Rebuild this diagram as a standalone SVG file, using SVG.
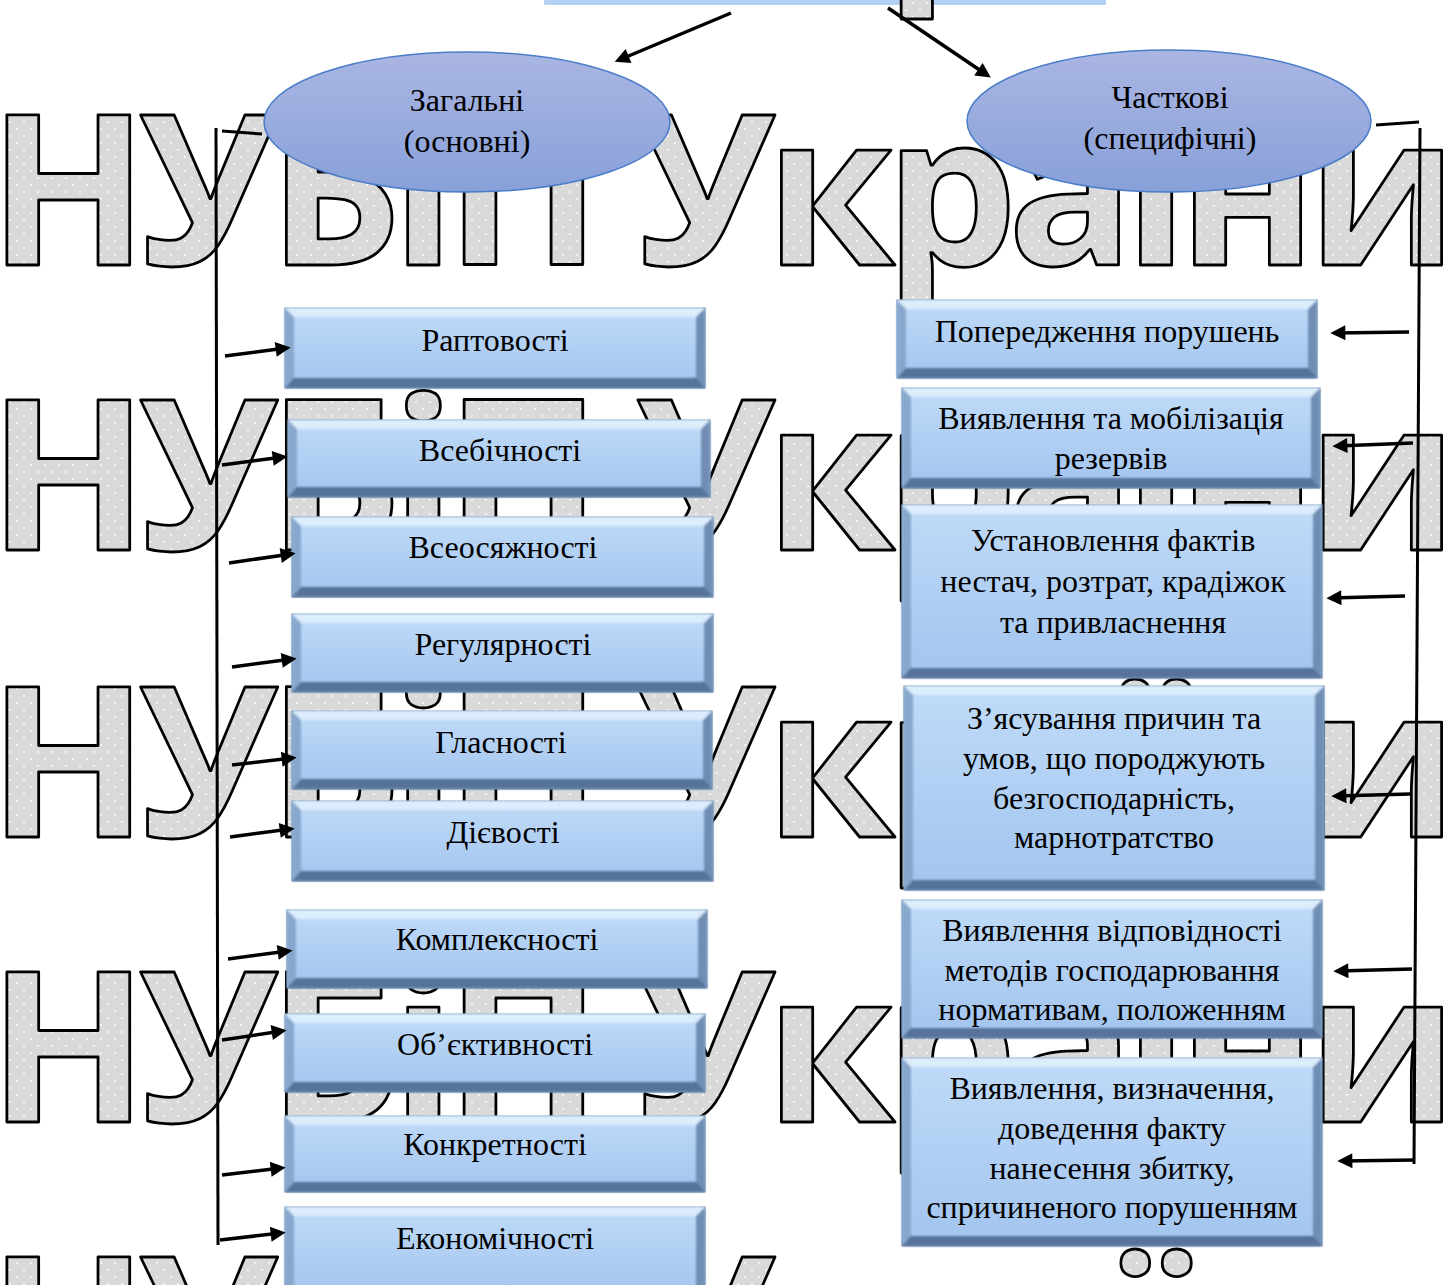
<svg xmlns="http://www.w3.org/2000/svg" width="1454" height="1285" viewBox="0 0 1454 1285">
  <defs>
    <pattern id="dots" width="14" height="14" patternUnits="userSpaceOnUse">
      <rect width="14" height="14" fill="#d9d9d9"/>
      <circle cx="3" cy="3" r="0.9" fill="#ffffff"/>
      <circle cx="10" cy="10" r="0.9" fill="#ffffff"/>
    </pattern>
    <linearGradient id="ovalFill" x1="0" y1="0" x2="0" y2="1">
      <stop offset="0" stop-color="#aab6e2"/>
      <stop offset="1" stop-color="#88a0d9"/>
    </linearGradient>
    <linearGradient id="boxFill" x1="0" y1="0" x2="0" y2="1">
      <stop offset="0" stop-color="#c0dbf8"/>
      <stop offset="1" stop-color="#a2c4ee"/>
    </linearGradient>
    <filter id="soft" x="-5%" y="-5%" width="110%" height="110%">
      <feGaussianBlur stdDeviation="1.3"/>
    </filter>
    <marker id="arr" viewBox="0 0 10 10" refX="6.9" refY="5" markerWidth="19" markerHeight="15" markerUnits="userSpaceOnUse" orient="auto">
      <path d="M0,0 L10,5 L0,10 z" fill="#000"/>
    </marker>
    <style>
      .wm { font-family: "Open Sans", "Noto Sans", "DejaVu Sans", sans-serif; font-weight: 700; font-size: 210px; fill: url(#dots); stroke: #000; stroke-width: 2.8; stroke-linejoin: round; }
      .oval { fill: url(#ovalFill); stroke: #4a7cc9; stroke-width: 1.5; }
      .lbl { font-family: "Liberation Serif", "Times New Roman", serif; font-size: 32px; fill: #000; text-anchor: middle; }
      .olbl { font-family: "Liberation Serif", "Times New Roman", serif; font-size: 32px; fill: #000; text-anchor: middle; }
      .bx { fill: url(#boxFill); stroke: #6a8ab0; stroke-width: 1; }
      .bl { fill: #87a7cd; }
      .br { fill: #6f8eb4; }
      .bt { fill: #dcedfc; }
      .bb { fill: #56739a; }
      .ln { stroke: #000; stroke-width: 3; fill: none; }
      .ar { stroke: #000; stroke-width: 3.5; fill: none; marker-end: url(#arr); }
    </style>
  </defs>

  <rect width="1454" height="1285" fill="#ffffff"/>

  <!-- top box, only its lower edge falls inside the sheet -->
  <g id="top-box">
    <rect x="545" y="-60" width="560" height="64" fill="#b4d3f4" stroke="#a9c9ea" stroke-width="1.5"/>
  </g>

  <!-- background lettering -->
  <g id="watermark">
    <text class="wm" x="-12" y="-32" textLength="1470" lengthAdjust="spacing">НУБіП України</text>
    <text class="wm" x="-12" y="265" textLength="1470" lengthAdjust="spacing">НУБіП України</text>
    <text class="wm" x="-12" y="550" textLength="1470" lengthAdjust="spacing">НУБіП України</text>
    <text class="wm" x="-12" y="837" textLength="1470" lengthAdjust="spacing">НУБіП України</text>
    <text class="wm" x="-12" y="1122" textLength="1470" lengthAdjust="spacing">НУБіП України</text>
    <text class="wm" x="-12" y="1407" textLength="1470" lengthAdjust="spacing">НУБіП України</text>
  </g>

  <!-- category ovals -->
  <g id="general">
    <ellipse class="oval" cx="467" cy="122" rx="203" ry="70"/>
    <text class="olbl" x="467" y="111">Загальні</text>
    <text class="olbl" x="467" y="152">(основні)</text>
  </g>
  <g id="specific">
    <ellipse class="oval" cx="1169" cy="121" rx="202" ry="71"/>
    <text class="olbl" x="1170" y="108">Часткові</text>
    <text class="olbl" x="1170" y="149">(специфічні)</text>
  </g>

  <!-- general principles (left column) -->
  <g id="l1">
    <rect class="bx" x="285" y="308" width="420" height="80"/>
    <g filter="url(#soft)">
      <rect class="bl" x="285" y="308" width="9" height="80"/>
      <rect class="br" x="696" y="308" width="9" height="80"/>
      <polygon class="bt" points="285,308 705,308 696,317 294,317"/>
      <polygon class="bb" points="285,388 705,388 696,378 294,378"/>
    </g>
    <text class="lbl" x="495" y="351">Раптовості</text>
  </g>
  <g id="l2">
    <rect class="bx" x="288" y="420" width="422" height="77"/>
    <g filter="url(#soft)">
      <rect class="bl" x="288" y="420" width="9" height="77"/>
      <rect class="br" x="701" y="420" width="9" height="77"/>
      <polygon class="bt" points="288,420 710,420 701,429 297,429"/>
      <polygon class="bb" points="288,497 710,497 701,487 297,487"/>
    </g>
    <text class="lbl" x="500" y="461">Всебічності</text>
  </g>
  <g id="l3">
    <rect class="bx" x="292" y="517" width="421" height="80"/>
    <g filter="url(#soft)">
      <rect class="bl" x="292" y="517" width="9" height="80"/>
      <rect class="br" x="704" y="517" width="9" height="80"/>
      <polygon class="bt" points="292,517 713,517 704,526 301,526"/>
      <polygon class="bb" points="292,597 713,597 704,587 301,587"/>
    </g>
    <text class="lbl" x="503" y="558">Всеосяжності</text>
  </g>
  <g id="l4">
    <rect class="bx" x="292" y="614" width="421" height="78"/>
    <g filter="url(#soft)">
      <rect class="bl" x="292" y="614" width="9" height="78"/>
      <rect class="br" x="704" y="614" width="9" height="78"/>
      <polygon class="bt" points="292,614 713,614 704,623 301,623"/>
      <polygon class="bb" points="292,692 713,692 704,682 301,682"/>
    </g>
    <text class="lbl" x="503" y="655">Регулярності</text>
  </g>
  <g id="l5">
    <rect class="bx" x="292" y="711" width="420" height="78"/>
    <g filter="url(#soft)">
      <rect class="bl" x="292" y="711" width="9" height="78"/>
      <rect class="br" x="703" y="711" width="9" height="78"/>
      <polygon class="bt" points="292,711 712,711 703,720 301,720"/>
      <polygon class="bb" points="292,789 712,789 703,779 301,779"/>
    </g>
    <text class="lbl" x="501" y="753">Гласності</text>
  </g>
  <g id="l6">
    <rect class="bx" x="292" y="801" width="421" height="80"/>
    <g filter="url(#soft)">
      <rect class="bl" x="292" y="801" width="9" height="80"/>
      <rect class="br" x="704" y="801" width="9" height="80"/>
      <polygon class="bt" points="292,801 713,801 704,810 301,810"/>
      <polygon class="bb" points="292,881 713,881 704,871 301,871"/>
    </g>
    <text class="lbl" x="503" y="843">Дієвості</text>
  </g>
  <g id="l7">
    <rect class="bx" x="287" y="910" width="420" height="78"/>
    <g filter="url(#soft)">
      <rect class="bl" x="287" y="910" width="9" height="78"/>
      <rect class="br" x="698" y="910" width="9" height="78"/>
      <polygon class="bt" points="287,910 707,910 698,919 296,919"/>
      <polygon class="bb" points="287,988 707,988 698,978 296,978"/>
    </g>
    <text class="lbl" x="497" y="950">Комплексності</text>
  </g>
  <g id="l8">
    <rect class="bx" x="285" y="1014" width="420" height="78"/>
    <g filter="url(#soft)">
      <rect class="bl" x="285" y="1014" width="9" height="78"/>
      <rect class="br" x="696" y="1014" width="9" height="78"/>
      <polygon class="bt" points="285,1014 705,1014 696,1023 294,1023"/>
      <polygon class="bb" points="285,1092 705,1092 696,1082 294,1082"/>
    </g>
    <text class="lbl" x="495" y="1055">Об’єктивності</text>
  </g>
  <g id="l9">
    <rect class="bx" x="285" y="1116" width="420" height="76"/>
    <g filter="url(#soft)">
      <rect class="bl" x="285" y="1116" width="9" height="76"/>
      <rect class="br" x="696" y="1116" width="9" height="76"/>
      <polygon class="bt" points="285,1116 705,1116 696,1125 294,1125"/>
      <polygon class="bb" points="285,1192 705,1192 696,1182 294,1182"/>
    </g>
    <text class="lbl" x="495" y="1155">Конкретності</text>
  </g>
  <g id="l10">
    <rect class="bx" x="285" y="1207" width="420" height="90"/>
    <g filter="url(#soft)">
      <rect class="bl" x="285" y="1207" width="9" height="90"/>
      <rect class="br" x="696" y="1207" width="9" height="90"/>
      <polygon class="bt" points="285,1207 705,1207 696,1216 294,1216"/>
    </g>
    <text class="lbl" x="495" y="1249">Економічності</text>
  </g>

  <!-- specific tasks (right column) -->
  <g id="r1">
    <rect class="bx" x="897" y="300" width="420" height="78"/>
    <g filter="url(#soft)">
      <rect class="bl" x="897" y="300" width="9" height="78"/>
      <rect class="br" x="1308" y="300" width="9" height="78"/>
      <polygon class="bt" points="897,300 1317,300 1308,309 906,309"/>
      <polygon class="bb" points="897,378 1317,378 1308,368 906,368"/>
    </g>
    <text class="lbl" x="1107" y="342">Попередження порушень</text>
  </g>
  <g id="r2">
    <rect class="bx" x="902" y="388" width="418" height="100"/>
    <g filter="url(#soft)">
      <rect class="bl" x="902" y="388" width="9" height="100"/>
      <rect class="br" x="1311" y="388" width="9" height="100"/>
      <polygon class="bt" points="902,388 1320,388 1311,397 911,397"/>
      <polygon class="bb" points="902,488 1320,488 1311,478 911,478"/>
    </g>
    <text class="lbl" x="1111" y="429">Виявлення та мобілізація</text>
    <text class="lbl" x="1111" y="469">резервів</text>
  </g>
  <g id="r3">
    <rect class="bx" x="902" y="505" width="420" height="173"/>
    <g filter="url(#soft)">
      <rect class="bl" x="902" y="505" width="9" height="173"/>
      <rect class="br" x="1313" y="505" width="9" height="173"/>
      <polygon class="bt" points="902,505 1322,505 1313,514 911,514"/>
      <polygon class="bb" points="902,678 1322,678 1313,668 911,668"/>
    </g>
    <text class="lbl" x="1113" y="551">Установлення фактів</text>
    <text class="lbl" x="1113" y="592">нестач, розтрат, крадіжок</text>
    <text class="lbl" x="1113" y="633">та привласнення</text>
  </g>
  <g id="r4">
    <rect class="bx" x="904" y="686" width="420" height="204"/>
    <g filter="url(#soft)">
      <rect class="bl" x="904" y="686" width="9" height="204"/>
      <rect class="br" x="1315" y="686" width="9" height="204"/>
      <polygon class="bt" points="904,686 1324,686 1315,695 913,695"/>
      <polygon class="bb" points="904,890 1324,890 1315,880 913,880"/>
    </g>
    <text class="lbl" x="1114" y="729">З’ясування причин та</text>
    <text class="lbl" x="1114" y="769">умов, що породжують</text>
    <text class="lbl" x="1114" y="809">безгосподарність,</text>
    <text class="lbl" x="1114" y="848">марнотратство</text>
  </g>
  <g id="r5">
    <rect class="bx" x="902" y="900" width="420" height="138"/>
    <g filter="url(#soft)">
      <rect class="bl" x="902" y="900" width="9" height="138"/>
      <rect class="br" x="1313" y="900" width="9" height="138"/>
      <polygon class="bt" points="902,900 1322,900 1313,909 911,909"/>
      <polygon class="bb" points="902,1038 1322,1038 1313,1028 911,1028"/>
    </g>
    <text class="lbl" x="1112" y="941">Виявлення відповідності</text>
    <text class="lbl" x="1112" y="981">методів господарювання</text>
    <text class="lbl" x="1112" y="1020">нормативам, положенням</text>
  </g>
  <g id="r6">
    <rect class="bx" x="902" y="1058" width="420" height="188"/>
    <g filter="url(#soft)">
      <rect class="bl" x="902" y="1058" width="9" height="188"/>
      <rect class="br" x="1313" y="1058" width="9" height="188"/>
      <polygon class="bt" points="902,1058 1322,1058 1313,1067 911,1067"/>
      <polygon class="bb" points="902,1246 1322,1246 1313,1236 911,1236"/>
    </g>
    <text class="lbl" x="1112" y="1099">Виявлення, визначення,</text>
    <text class="lbl" x="1112" y="1139">доведення факту</text>
    <text class="lbl" x="1112" y="1179">нанесення збитку,</text>
    <text class="lbl" x="1112" y="1218">спричиненого порушенням</text>
  </g>

  <!-- connectors -->
  <g id="connectors">
    <line class="ar" x1="731" y1="13" x2="619" y2="60"/>
    <line class="ar" x1="888" y1="8" x2="987" y2="75"/>

    <line class="ln" x1="222" y1="131" x2="262" y2="134"/>
    <line class="ln" x1="216" y1="128" x2="218" y2="1245"/>
    <line class="ar" x1="225" y1="356" x2="286" y2="348"/>
    <line class="ar" x1="222" y1="465" x2="283" y2="457"/>
    <line class="ar" x1="229" y1="563" x2="291" y2="554"/>
    <line class="ar" x1="232" y1="667" x2="292" y2="659"/>
    <line class="ar" x1="232" y1="765" x2="292" y2="758"/>
    <line class="ar" x1="230" y1="837" x2="290" y2="829"/>
    <line class="ar" x1="228" y1="959" x2="288" y2="951"/>
    <line class="ar" x1="222" y1="1040" x2="282" y2="1031"/>
    <line class="ar" x1="222" y1="1175" x2="281" y2="1168"/>
    <line class="ar" x1="220" y1="1240" x2="281" y2="1233"/>

    <line class="ln" x1="1376" y1="125" x2="1419" y2="122"/>
    <line class="ln" x1="1420" y1="128" x2="1414" y2="1164"/>
    <line class="ar" x1="1409" y1="332" x2="1335" y2="333"/>
    <line class="ar" x1="1413" y1="443" x2="1337" y2="446"/>
    <line class="ar" x1="1405" y1="596" x2="1331" y2="598"/>
    <line class="ar" x1="1410" y1="794" x2="1336" y2="796"/>
    <line class="ar" x1="1412" y1="969" x2="1338" y2="971"/>
    <line class="ar" x1="1415" y1="1160" x2="1342" y2="1161"/>
  </g>
</svg>
